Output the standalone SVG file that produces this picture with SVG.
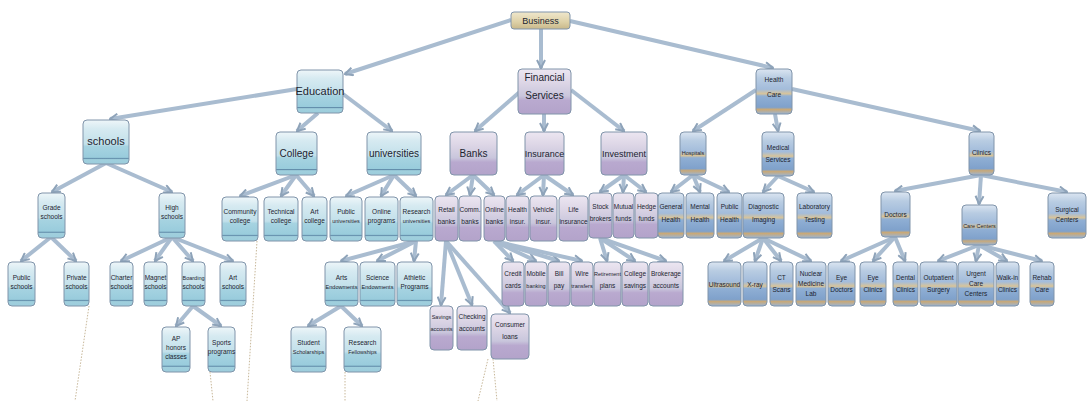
<svg xmlns="http://www.w3.org/2000/svg" width="1087" height="401" viewBox="0 0 1087 401">
<style>
.node rect{stroke:#8094aa;stroke-width:1}
.edu rect{fill:url(#gEdu)}
.fin rect{fill:url(#gFin)}
.hea rect{fill:url(#gHea)}
.biz rect{fill:url(#gBiz)}
text{font-family:"Liberation Sans",Arial,sans-serif;fill:#1c2430;text-anchor:middle}
.l1{font-size:11px}
.l2{font-size:10px}
.s{font-size:6.5px}
.s2{font-size:5.5px}
.t{font-size:9px}
#connectors line{stroke:#a9bcd0;stroke-width:4;marker-end:url(#arr)}
#dots line{stroke:#c8b89a;stroke-width:1;stroke-dasharray:1.5 1.5}
</style>
<defs>
<linearGradient id="gEdu" x1="0" y1="0" x2="0" y2="1">
<stop offset="0" stop-color="#eef6f9"/><stop offset="0.2" stop-color="#d6eaf1"/><stop offset="0.55" stop-color="#c2e0ea"/><stop offset="0.6" stop-color="#a6d3e1"/><stop offset="0.85" stop-color="#99ccdc"/><stop offset="0.87" stop-color="#5f8aa8"/><stop offset="0.9" stop-color="#a0cfdd"/><stop offset="1" stop-color="#9ccddc"/>
</linearGradient>
<linearGradient id="gFin" x1="0" y1="0" x2="0" y2="1">
<stop offset="0" stop-color="#ece6f1"/><stop offset="0.3" stop-color="#ddd6e6"/><stop offset="0.6" stop-color="#c9c6dc"/><stop offset="0.7" stop-color="#b9a9cf"/><stop offset="1" stop-color="#b3a3ca"/>
</linearGradient>
<linearGradient id="gHea" x1="0" y1="0" x2="0" y2="1">
<stop offset="0" stop-color="#dbe5f1"/><stop offset="0.2" stop-color="#b8cce2"/><stop offset="0.45" stop-color="#a3bcdb"/><stop offset="0.55" stop-color="#d8c49a"/><stop offset="0.6" stop-color="#90afd4"/><stop offset="0.85" stop-color="#7fa1cb"/><stop offset="0.9" stop-color="#c9a978"/><stop offset="1" stop-color="#9ab4d4"/>
</linearGradient>
<linearGradient id="gBiz" x1="0" y1="0" x2="0" y2="1">
<stop offset="0" stop-color="#efe7cc"/><stop offset="0.6" stop-color="#ddd0a6"/><stop offset="1" stop-color="#c8b88a"/>
</linearGradient>
<marker id="arr" viewBox="0 0 10 10" refX="9" refY="5" markerWidth="10" markerHeight="10" markerUnits="userSpaceOnUse" orient="auto">
<path d="M1,1 L9,5 L1,9" fill="none" stroke="#8ea3b9" stroke-width="2"/>
</marker>
</defs>
<rect width="1087" height="401" fill="#ffffff"/>

<g id="dots">
<line x1="89" y1="306" x2="75" y2="401"/>
<line x1="210" y1="372" x2="213" y2="401"/>
<line x1="257" y1="241" x2="247" y2="401"/>
<line x1="345" y1="372" x2="345" y2="401"/>
<line x1="488" y1="359" x2="478" y2="401"/>
<line x1="493" y1="359" x2="497" y2="401"/>
</g>

<g id="connectors">
<line x1="511" y1="20" x2="345" y2="74"/>
<line x1="541" y1="29" x2="541" y2="68"/>
<line x1="570" y1="21" x2="773" y2="68"/>
<line x1="297" y1="89" x2="110" y2="119"/>
<line x1="318" y1="113" x2="297" y2="131"/>
<line x1="343" y1="94" x2="392" y2="131"/>
<line x1="522" y1="90" x2="475" y2="131"/>
<line x1="544" y1="114" x2="544" y2="131"/>
<line x1="571" y1="90" x2="624" y2="131"/>
<line x1="756" y1="90" x2="693" y2="131"/>
<line x1="775" y1="114" x2="778" y2="131"/>
<line x1="792" y1="89" x2="980" y2="131"/>
<line x1="106" y1="163" x2="52" y2="192"/>
<line x1="106" y1="163" x2="172" y2="192"/>
<line x1="296" y1="175" x2="240" y2="196"/>
<line x1="296" y1="175" x2="281" y2="196"/>
<line x1="296" y1="175" x2="314" y2="196"/>
<line x1="394" y1="175" x2="346" y2="196"/>
<line x1="394" y1="175" x2="381" y2="196"/>
<line x1="394" y1="175" x2="416" y2="196"/>
<line x1="473" y1="175" x2="446" y2="195"/>
<line x1="473" y1="175" x2="470" y2="195"/>
<line x1="473" y1="175" x2="494" y2="195"/>
<line x1="544" y1="175" x2="517" y2="195"/>
<line x1="544" y1="175" x2="543" y2="195"/>
<line x1="544" y1="175" x2="573" y2="195"/>
<line x1="624" y1="175" x2="600" y2="192"/>
<line x1="624" y1="175" x2="623" y2="192"/>
<line x1="624" y1="175" x2="646" y2="192"/>
<line x1="693" y1="175" x2="671" y2="192"/>
<line x1="693" y1="175" x2="700" y2="192"/>
<line x1="693" y1="175" x2="729" y2="192"/>
<line x1="778" y1="176" x2="763" y2="192"/>
<line x1="778" y1="176" x2="814" y2="192"/>
<line x1="981" y1="175" x2="895" y2="191"/>
<line x1="981" y1="175" x2="979" y2="204"/>
<line x1="981" y1="175" x2="1067" y2="192"/>
<line x1="51" y1="237" x2="21" y2="261"/>
<line x1="51" y1="237" x2="76" y2="261"/>
<line x1="172" y1="237" x2="121" y2="261"/>
<line x1="172" y1="237" x2="155" y2="261"/>
<line x1="172" y1="237" x2="193" y2="261"/>
<line x1="172" y1="237" x2="233" y2="261"/>
<line x1="193" y1="306" x2="176" y2="326"/>
<line x1="193" y1="306" x2="221" y2="326"/>
<line x1="416" y1="241" x2="341" y2="261"/>
<line x1="416" y1="241" x2="377" y2="261"/>
<line x1="416" y1="241" x2="414" y2="261"/>
<line x1="341" y1="306" x2="308" y2="326"/>
<line x1="341" y1="306" x2="362" y2="326"/>
<line x1="446" y1="241" x2="441" y2="305"/>
<line x1="446" y1="241" x2="472" y2="305"/>
<line x1="446" y1="241" x2="510" y2="313"/>
<line x1="494" y1="241" x2="513" y2="261"/>
<line x1="494" y1="241" x2="536" y2="261"/>
<line x1="494" y1="241" x2="559" y2="261"/>
<line x1="494" y1="241" x2="582" y2="261"/>
<line x1="600" y1="238" x2="607" y2="261"/>
<line x1="600" y1="238" x2="635" y2="261"/>
<line x1="600" y1="238" x2="666" y2="261"/>
<line x1="763" y1="238" x2="724" y2="261"/>
<line x1="763" y1="238" x2="755" y2="261"/>
<line x1="763" y1="238" x2="781" y2="261"/>
<line x1="763" y1="238" x2="811" y2="261"/>
<line x1="895" y1="237" x2="841" y2="261"/>
<line x1="895" y1="237" x2="873" y2="261"/>
<line x1="895" y1="237" x2="905" y2="261"/>
<line x1="979" y1="245" x2="938" y2="261"/>
<line x1="979" y1="245" x2="976" y2="261"/>
<line x1="979" y1="245" x2="1007" y2="261"/>
<line x1="979" y1="245" x2="1042" y2="261"/>
</g>

<g id="n-business" class="node biz"><rect x="511" y="12" width="59" height="17" rx="3"/><text class="t" x="540.5" y="23.5">Business</text></g>

<g id="n-education" class="node edu"><rect x="297" y="70" width="46" height="43" rx="4"/><text class="l1" x="320" y="95">Education</text></g>
<g id="n-financial" class="node fin"><rect x="518" y="69" width="53" height="45" rx="4"/><text class="l2" x="544.5" y="81">Financial</text><text class="l2" x="544.5" y="99">Services</text></g>
<g id="n-health" class="node hea"><rect x="756" y="69" width="36" height="45" rx="4"/><text class="s" x="774" y="82">Health</text><text class="s" x="774" y="97">Care</text></g>

<g id="n-schools" class="node edu"><rect x="83" y="120" width="46" height="44" rx="4"/><text class="l1" x="106" y="145">schools</text></g>
<g id="n-college" class="node edu"><rect x="276" y="132" width="41" height="43" rx="4"/><text class="l2" x="296.5" y="157">College</text></g>
<g id="n-universities" class="node edu"><rect x="367" y="132" width="54" height="43" rx="4"/><text class="l2" x="394" y="157">universities</text></g>
<g id="n-banks" class="node fin"><rect x="450" y="132" width="47" height="43" rx="4"/><text class="l2" x="473.5" y="157">Banks</text></g>
<g id="n-insurance" class="node fin"><rect x="525" y="132" width="39" height="43" rx="4"/><text class="t" x="544.5" y="157">Insurance</text></g>
<g id="n-investment" class="node fin"><rect x="601" y="132" width="46" height="43" rx="4"/><text class="t" x="624" y="157">Investment</text></g>
<g id="n-hospitals" class="node hea"><rect x="680" y="132" width="26" height="43" rx="4"/><text class="s2" x="693" y="155">Hospitals</text></g>
<g id="n-medical" class="node hea"><rect x="762" y="132" width="32" height="44" rx="4"/><text class="s" x="778" y="150">Medical</text><text class="s" x="778" y="162">Services</text></g>
<g id="n-clinics" class="node hea"><rect x="969" y="132" width="25" height="43" rx="4"/><text class="s" x="981.5" y="155">Clinics</text></g>

<g id="n-grade" class="node edu"><rect x="38" y="193" width="27" height="45" rx="4"/><text class="s" x="51.5" y="210">Grade</text><text class="s" x="51.5" y="219">schools</text></g>
<g id="n-high" class="node edu"><rect x="159" y="193" width="26" height="45" rx="4"/><text class="s" x="172" y="210">High</text><text class="s" x="172" y="219">schools</text></g>
<g id="n-community" class="node edu"><rect x="222" y="197" width="36" height="44" rx="4"/><text class="s" x="240" y="214">Community</text><text class="s" x="240" y="223">college</text></g>
<g id="n-technical" class="node edu"><rect x="264" y="197" width="34" height="44" rx="4"/><text class="s" x="281" y="214">Technical</text><text class="s" x="281" y="223">college</text></g>
<g id="n-artcollege" class="node edu"><rect x="302" y="197" width="25" height="44" rx="4"/><text class="s" x="314.5" y="214">Art</text><text class="s" x="314.5" y="223">college</text></g>
<g id="n-publicu" class="node edu"><rect x="330" y="197" width="32" height="44" rx="4"/><text class="s" x="346" y="214">Public</text><text class="s2" x="346" y="223">universities</text></g>
<g id="n-online" class="node edu"><rect x="365" y="197" width="33" height="44" rx="4"/><text class="s" x="381.5" y="214">Online</text><text class="s" x="381.5" y="223">programs</text></g>
<g id="n-research" class="node edu"><rect x="400" y="197" width="33" height="44" rx="4"/><text class="s" x="416.5" y="214">Research</text><text class="s2" x="416.5" y="223">universities</text></g>

<g id="n-retailbanks" class="node fin"><rect x="435" y="196" width="23" height="45" rx="4"/><text class="s" x="446.5" y="212">Retail</text><text class="s" x="446.5" y="224">banks</text></g>
<g id="n-commercial" class="node fin"><rect x="459" y="196" width="22" height="45" rx="4"/><text class="s" x="470" y="212">Comm.</text><text class="s" x="470" y="224">banks</text></g>
<g id="n-onlinebanks" class="node fin"><rect x="484" y="196" width="21" height="45" rx="4"/><text class="s" x="494.5" y="212">Online</text><text class="s" x="494.5" y="224">banks</text></g>
<g id="n-healthins" class="node fin"><rect x="506" y="196" width="23" height="45" rx="4"/><text class="s" x="517.5" y="212">Health</text><text class="s" x="517.5" y="224">insur.</text></g>
<g id="n-vehicle" class="node fin"><rect x="530" y="196" width="27" height="45" rx="4"/><text class="s" x="543.5" y="212">Vehicle</text><text class="s" x="543.5" y="224">insur.</text></g>
<g id="n-life" class="node fin"><rect x="559" y="196" width="29" height="45" rx="4"/><text class="s" x="573.5" y="212">Life</text><text class="s" x="573.5" y="224">insurance</text></g>
<g id="n-stock" class="node fin"><rect x="589" y="193" width="23" height="45" rx="4"/><text class="s" x="600.5" y="209">Stock</text><text class="s" x="600.5" y="221">brokers</text></g>
<g id="n-mutual" class="node fin"><rect x="613" y="193" width="21" height="45" rx="4"/><text class="s" x="623.5" y="209">Mutual</text><text class="s" x="623.5" y="221">funds</text></g>
<g id="n-hedge" class="node fin"><rect x="635" y="193" width="23" height="45" rx="4"/><text class="s" x="646.5" y="209">Hedge</text><text class="s" x="646.5" y="221">funds</text></g>

<g id="n-general" class="node hea"><rect x="658" y="193" width="26" height="45" rx="4"/><text class="s" x="671" y="209">General</text><text class="s" x="671" y="222">Health</text></g>
<g id="n-mental" class="node hea"><rect x="686" y="193" width="28" height="45" rx="4"/><text class="s" x="700" y="209">Mental</text><text class="s" x="700" y="222">Health</text></g>
<g id="n-publichealth" class="node hea"><rect x="717" y="193" width="25" height="45" rx="4"/><text class="s" x="729.5" y="209">Public</text><text class="s" x="729.5" y="222">Health</text></g>
<g id="n-diagnostic" class="node hea"><rect x="743" y="193" width="41" height="45" rx="4"/><text class="s" x="763.5" y="209">Diagnostic</text><text class="s" x="763.5" y="222">Imaging</text></g>
<g id="n-lab" class="node hea"><rect x="797" y="193" width="35" height="45" rx="4"/><text class="s" x="814.5" y="209">Laboratory</text><text class="s" x="814.5" y="222">Testing</text></g>
<g id="n-dental" class="node hea"><rect x="881" y="192" width="29" height="45" rx="4"/><text class="s" x="895.5" y="217">Doctors</text></g>
<g id="n-urgent" class="node hea"><rect x="962" y="205" width="35" height="40" rx="4"/><text class="s2" x="979.5" y="228">Care Centers</text></g>
<g id="n-surgical" class="node hea"><rect x="1048" y="193" width="38" height="45" rx="4"/><text class="s" x="1067" y="212">Surgical</text><text class="s" x="1067" y="222">Centers</text></g>

<g id="n-pubs" class="node edu"><rect x="8" y="262" width="27" height="44" rx="4"/><text class="s" x="21.5" y="280">Public</text><text class="s" x="21.5" y="289">schools</text></g>
<g id="n-privs" class="node edu"><rect x="64" y="262" width="25" height="44" rx="4"/><text class="s" x="76.5" y="280">Private</text><text class="s" x="76.5" y="289">schools</text></g>
<g id="n-charter" class="node edu"><rect x="110" y="262" width="23" height="44" rx="4"/><text class="s" x="121.5" y="280">Charter</text><text class="s" x="121.5" y="289">schools</text></g>
<g id="n-magnet" class="node edu"><rect x="144" y="262" width="23" height="44" rx="4"/><text class="s" x="155.5" y="280">Magnet</text><text class="s" x="155.5" y="289">schools</text></g>
<g id="n-boarding" class="node edu"><rect x="182" y="262" width="23" height="44" rx="4"/><text class="s2" x="193.5" y="280">Boarding</text><text class="s" x="193.5" y="289">schools</text></g>
<g id="n-arts" class="node edu"><rect x="220" y="262" width="26" height="44" rx="4"/><text class="s" x="233" y="280">Art</text><text class="s" x="233" y="289">schools</text></g>
<g id="n-ap" class="node edu"><rect x="162" y="327" width="28" height="45" rx="4"/><text class="s" x="176" y="341">AP</text><text class="s" x="176" y="350">honors</text><text class="s" x="176" y="359">classes</text></g>
<g id="n-sports" class="node edu"><rect x="208" y="327" width="27" height="45" rx="4"/><text class="s" x="221.5" y="345">Sports</text><text class="s" x="221.5" y="354">programs</text></g>
<g id="n-artsend" class="node edu"><rect x="325" y="262" width="33" height="44" rx="4"/><text class="s" x="341.5" y="280">Arts</text><text class="s2" x="341.5" y="289">Endowments</text></g>
<g id="n-sciend" class="node edu"><rect x="360" y="262" width="35" height="44" rx="4"/><text class="s" x="377.5" y="280">Science</text><text class="s2" x="377.5" y="289">Endowments</text></g>
<g id="n-athletic" class="node edu"><rect x="397" y="262" width="35" height="44" rx="4"/><text class="s" x="414.5" y="280">Athletic</text><text class="s" x="414.5" y="289">Programs</text></g>
<g id="n-scholar" class="node edu"><rect x="291" y="327" width="35" height="45" rx="4"/><text class="s" x="308.5" y="345">Student</text><text class="s2" x="308.5" y="354">Scholarships</text></g>
<g id="n-fellow" class="node edu"><rect x="344" y="327" width="37" height="45" rx="4"/><text class="s" x="362.5" y="345">Research</text><text class="s2" x="362.5" y="354">Fellowships</text></g>

<g id="n-savings" class="node fin"><rect x="430" y="306" width="23" height="44" rx="4"/><text class="s2" x="441.5" y="319">Savings</text><text class="s2" x="441.5" y="331">accounts</text></g>
<g id="n-checking" class="node fin"><rect x="457" y="306" width="30" height="44" rx="4"/><text class="s" x="472" y="319">Checking</text><text class="s" x="472" y="331">accounts</text></g>
<g id="n-loans" class="node fin"><rect x="491" y="314" width="38" height="45" rx="4"/><text class="s" x="510" y="327">Consumer</text><text class="s" x="510" y="339">loans</text></g>
<g id="n-credit" class="node fin"><rect x="502" y="262" width="22" height="44" rx="4"/><text class="s" x="513" y="276">Credit</text><text class="s" x="513" y="288">cards</text></g>
<g id="n-mobile" class="node fin"><rect x="525" y="262" width="22" height="44" rx="4"/><text class="s" x="536" y="276">Mobile</text><text class="s2" x="536" y="288">banking</text></g>
<g id="n-billpay" class="node fin"><rect x="548" y="262" width="22" height="44" rx="4"/><text class="s" x="559" y="276">Bill</text><text class="s" x="559" y="288">pay</text></g>
<g id="n-transfers" class="node fin"><rect x="571" y="262" width="22" height="44" rx="4"/><text class="s" x="582" y="276">Wire</text><text class="s2" x="582" y="288">transfers</text></g>
<g id="n-retire" class="node fin"><rect x="594" y="262" width="27" height="44" rx="4"/><text class="s2" x="607.5" y="276">Retirement</text><text class="s" x="607.5" y="288">plans</text></g>
<g id="n-collegesav" class="node fin"><rect x="622" y="262" width="26" height="44" rx="4"/><text class="s" x="635" y="276">College</text><text class="s" x="635" y="288">savings</text></g>
<g id="n-brokerage" class="node fin"><rect x="649" y="262" width="34" height="44" rx="4"/><text class="s" x="666" y="276">Brokerage</text><text class="s" x="666" y="288">accounts</text></g>

<g id="n-ultrasound" class="node hea"><rect x="708" y="262" width="33" height="44" rx="4"/><text class="s" x="724.5" y="287">Ultrasound</text></g>
<g id="n-xray" class="node hea"><rect x="743" y="262" width="24" height="44" rx="4"/><text class="s" x="755" y="287">X-ray</text></g>
<g id="n-ct" class="node hea"><rect x="770" y="262" width="23" height="44" rx="4"/><text class="s" x="781.5" y="280">CT</text><text class="s" x="781.5" y="292">Scans</text></g>
<g id="n-nuclear" class="node hea"><rect x="796" y="262" width="30" height="44" rx="4"/><text class="s" x="811" y="276">Nuclear</text><text class="s" x="811" y="286">Medicine</text><text class="s" x="811" y="296">Lab</text></g>
<g id="n-eye" class="node hea"><rect x="828" y="262" width="27" height="44" rx="4"/><text class="s" x="841.5" y="280">Eye</text><text class="s" x="841.5" y="292">Doctors</text></g>
<g id="n-foot" class="node hea"><rect x="860" y="262" width="26" height="44" rx="4"/><text class="s" x="873" y="280">Eye</text><text class="s" x="873" y="292">Clinics</text></g>
<g id="n-chiro" class="node hea"><rect x="893" y="262" width="25" height="44" rx="4"/><text class="s" x="905.5" y="280">Dental</text><text class="s" x="905.5" y="292">Clinics</text></g>
<g id="n-urgentcare" class="node hea"><rect x="920" y="262" width="37" height="44" rx="4"/><text class="s" x="938.5" y="280">Outpatient</text><text class="s" x="938.5" y="292">Surgery</text></g>
<g id="n-walkin" class="node hea"><rect x="958" y="262" width="36" height="44" rx="4"/><text class="s" x="976" y="276">Urgent</text><text class="s" x="976" y="286">Care</text><text class="s" x="976" y="296">Centers</text></g>
<g id="n-family" class="node hea"><rect x="996" y="262" width="23" height="44" rx="4"/><text class="s" x="1007.5" y="280">Walk-in</text><text class="s" x="1007.5" y="292">Clinics</text></g>
<g id="n-pediatrics" class="node hea"><rect x="1030" y="262" width="24" height="44" rx="4"/><text class="s" x="1042" y="280">Rehab</text><text class="s" x="1042" y="292">Care</text></g>
</svg>
